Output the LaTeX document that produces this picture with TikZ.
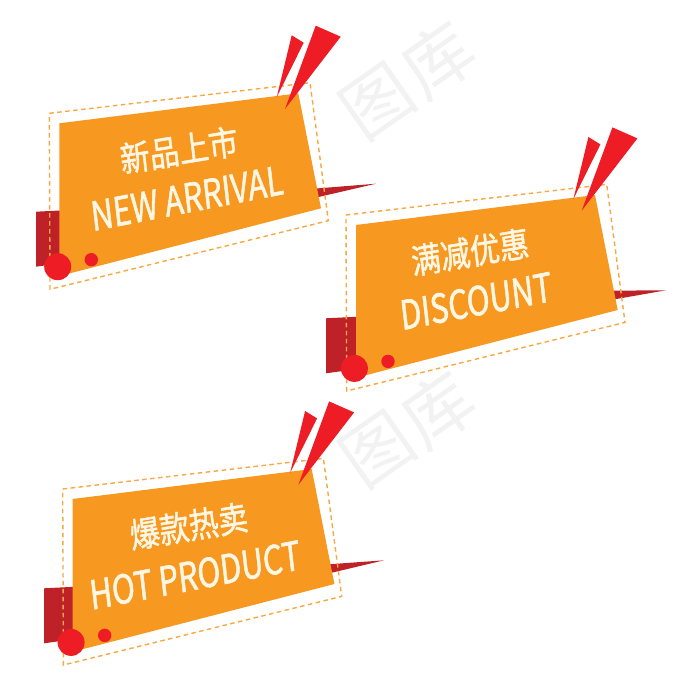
\documentclass[tikz,border=0pt]{standalone}
\usepackage{fontspec}
\setmainfont{Noto Sans CJK SC}[FakeBold=1.6]
\newfontfamily\markfont{Noto Sans CJK SC}
\definecolor{tagOrange}{HTML}{F79820}
\definecolor{tagRed}{HTML}{EE1C25}
\definecolor{tagDark}{HTML}{BE2228}
\definecolor{tagText}{HTML}{FFF6E3}
\begin{document}
\begin{tikzpicture}
[x=1pt, y=-1pt,
   tagBody/.style={fill=tagOrange},
   tagShade/.style={fill=tagDark},
   tagSpike/.style={fill=tagRed},
   tagEdge/.style={draw=tagOrange!85!white, line width=1.4pt, dash pattern=on 4.5pt off 3.5pt},
   titleCN/.style={text=tagText, font=\fontsize{34.5}{35}\selectfont, inner sep=0pt, xscale=0.86, transform shape},
   titleEN/.style={text=tagText, font=\fontsize{40}{40}\selectfont, inner sep=0pt, xscale=0.77, transform shape},
   markText/.style={text=black, text opacity=0.05, font=\markfont\fontsize{70}{70}\selectfont, inner sep=0pt, rotate=35}]
\useasboundingbox (0, 0) rectangle (700, 700);
% one tag per line: shift of the tag, shift of the dark parts
\foreach \bx/\by/\sx/\sy in {0/0/0/0, 296.7/101.7/290/106.6, 13.4/375.7/8/376.6} {
  \fill[tagShade] (36+\sx, 211.7+\sy) -- (70+\sx, 210+\sy) -- (70+\sx, 262+\sy) -- (36+\sx, 266.7+\sy) -- cycle;
  \fill[tagShade] (310+\bx, 189+\by) -- (376+\sx, 183.7+\sy) -- (310+\bx, 199+\by) -- cycle;
  \fill[tagBody] (59.3+\bx, 123.3+\by) -- (298.3+\bx, 93.3+\by) -- (321+\bx, 208.3+\by) -- (70+\bx, 273.3+\by) -- (59.3+\bx, 273.3+\by) -- cycle;
  \draw[tagEdge] (49.3+\bx, 113.3+\by) -- (310+\bx, 82.7+\by) -- (328.3+\bx, 220.7+\by) -- (50+\bx, 289.3+\by) -- cycle;
  \fill[tagSpike] (315.7+\bx, 25.7+\by) -- (340.7+\bx, 36.7+\by) -- (285+\bx, 109+\by) -- cycle;
  \fill[tagSpike] (291.7+\bx, 35.3+\by) -- (303.7+\bx, 42.7+\by) -- (276.7+\bx, 97.3+\by) -- cycle;
  \fill[tagSpike] (57.7+\bx, 266.7+\by) circle (13.5);
  \fill[tagSpike] (91.3+\bx, 259.7+\by) circle (6.7);
}
\node[titleCN, rotate=8] (newCN) at (179, 150) {新品上市};
\node[titleEN, rotate=8.5] (newEN) at (187, 198) {NEW ARRIVAL};
\node[titleCN, rotate=8] (discountCN) at (470, 252) {满减优惠};
\node[titleEN, rotate=8.5] (discountEN) at (476, 301) {DISCOUNT};
\node[titleCN, rotate=8] (hotCN) at (189, 526) {爆款热卖};
\node[titleEN, rotate=8.5] (hotEN) at (195, 575) {HOT PRODUCT};
% faint marks
\node[markText] (markTuA) at (378, 102) {图};
\node[markText] (markKuA) at (438, 60) {库};
\node[markText] (markTuB) at (378, 450) {图};
\node[markText] (markKuB) at (438, 410) {库};
\end{tikzpicture}
\end{document}
